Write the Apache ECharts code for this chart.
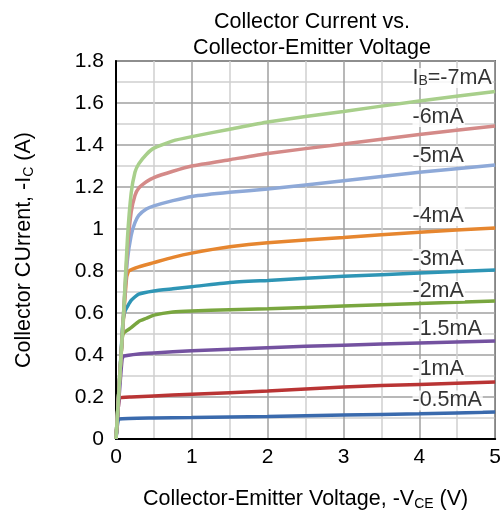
<!DOCTYPE html>
<html>
<head>
<meta charset="utf-8">
<script src="https://cdn.jsdelivr.net/npm/echarts@6/dist/echarts.min.js"></script>
<style>
  html, body { margin: 0; padding: 0; background: #fff; }
  #chart { width: 504px; height: 516px; }
</style>
</head>
<body>
<div id="chart"></div>
<script>
// collector current (A) vs collector-emitter voltage (V), one curve per base current
const ib7 = [[0,0],[0.05,0.3],[0.1,0.6],[0.15,0.95],[0.2,1.17],[0.25,1.27],[0.3,1.31],[0.4,1.355],[0.5,1.385],[0.75,1.42],[1,1.44],[1.5,1.475],[2,1.51],[3,1.56],[4,1.61],[5,1.655]]
const ib6 = [[0,0],[0.05,0.3],[0.1,0.6],[0.15,0.9],[0.2,1.08],[0.25,1.16],[0.3,1.195],[0.4,1.225],[0.5,1.245],[0.75,1.275],[1,1.3],[1.5,1.33],[2,1.36],[3,1.405],[4,1.45],[5,1.49]]
const ib5 = [[0,0],[0.05,0.3],[0.1,0.6],[0.15,0.85],[0.2,0.97],[0.25,1.03],[0.3,1.065],[0.4,1.095],[0.5,1.11],[0.75,1.135],[1,1.155],[1.5,1.175],[2,1.19],[3,1.23],[4,1.27],[5,1.305]]
const ib4 = [[0,0],[0.05,0.3],[0.1,0.58],[0.14,0.77],[0.17,0.8],[0.3,0.82],[0.5,0.84],[0.75,0.865],[1,0.885],[1.5,0.915],[2,0.935],[3,0.96],[4,0.985],[5,1.005]]
const ib3 = [[0,0],[0.05,0.3],[0.09,0.55],[0.12,0.61],[0.2,0.66],[0.3,0.69],[0.5,0.705],[0.75,0.715],[1,0.725],[1.5,0.745],[2,0.755],[3,0.775],[4,0.79],[5,0.805]]
const ib2 = [[0,0],[0.04,0.25],[0.08,0.47],[0.1,0.505],[0.2,0.53],[0.3,0.56],[0.4,0.575],[0.5,0.59],[0.75,0.605],[1,0.61],[1.5,0.615],[2,0.62],[3,0.633],[4,0.645],[5,0.657]]
const ib15 = [[0,0],[0.04,0.2],[0.08,0.38],[0.1,0.395],[0.3,0.405],[0.5,0.41],[1,0.42],[2,0.435],[3,0.447],[4,0.457],[5,0.467]]
const ib1 = [[0,0],[0.03,0.15],[0.05,0.195],[0.2,0.2],[0.5,0.205],[1,0.213],[2,0.228],[3,0.248],[4,0.26],[5,0.271]]
const ib05 = [[0,0],[0.02,0.07],[0.04,0.095],[0.5,0.1],[1,0.102],[2,0.107],[3,0.114],[4,0.12],[5,0.128]]

const curves = [ib05, ib1, ib15, ib2, ib3, ib4, ib5, ib6, ib7]
const curveNames = ['-0.5mA', '-1mA', '-1.5mA', '-2mA', '-3mA', '-4mA', '-5mA', '-6mA', '-7mA']
const curveColors = ['#3a6aad', '#b93434', '#7452a0', '#79a63f', '#2e95b5', '#e6862f', '#8ea9d8', '#d48a88', '#a8cf8b']

// curve labels at the right side
const labelTexts = ['-0.5mA', '-1mA', '-1.5mA', '-2mA', '-3mA', '-4mA', '-5mA', '-6mA', 'I{s|B}=-7mA']
const labelCurrent = [0.183, 0.333, 0.524, 0.705, 0.857, 1.062, 1.348, 1.533, 1.719]
const labelVoltage = 3.91

const FONT = '"Liberation Sans", Arial, sans-serif'
const subStyle = { fontFamily: FONT, fontSize: 14, color: '#000', verticalAlign: 'bottom', padding: [9, 0, 0, 0] }

const chart = echarts.init(document.getElementById('chart'))

let series = curves.map((d, i) => ({
    name: curveNames[i],
    type: 'line',
    data: d,
    smooth: 0.15,
    showSymbol: false,
    lineStyle: { width: 3.5, color: curveColors[i] },
    itemStyle: { color: curveColors[i] },
    z: 3
}))

series.push({
    name: 'labels',
    type: 'scatter',
    symbolSize: 0,
    data: labelCurrent.map((v, i) => [labelVoltage, v, labelTexts[i]]),
    label: {
        show: true,
        position: 'right',
        distance: 0,
        formatter: p => p.data[2],
        fontFamily: FONT,
        fontSize: 21.5,
        lineHeight: 20,
        color: '#000',
        backgroundColor: '#fff',
        padding: [0, 1, 0, 0],
        rich: { s: subStyle }
    },
    z: 5
})

const option = {
    animation: false,
    backgroundColor: '#fff',
    title: {
        text: 'Collector Current vs.\nCollector-Emitter Voltage',
        left: 307,
        top: 4,
        textAlign: 'center',
        textStyle: { fontFamily: FONT, fontSize: 21.5, fontWeight: 'normal', color: '#000', lineHeight: 26 }
    },
    grid: {
        left: 116, right: 7, top: 61, bottom: 76,
        show: true, borderColor: '#222', borderWidth: 1.5
    },
    xAxis: {
        type: 'value',
        min: 0, max: 5, interval: 1,
        name: 'Collector-Emitter Voltage, -V{s|CE} (V)',
        nameLocation: 'middle',
        nameGap: 49,
        nameTextStyle: { fontFamily: FONT, fontSize: 21.5, color: '#000', rich: { s: subStyle } },
        axisLine: { show: true, lineStyle: { color: '#000', width: 2 } },
        axisTick: { show: false },
        axisLabel: { fontFamily: FONT, fontSize: 21, color: '#000', margin: 8 },
        splitLine: { show: true, lineStyle: { color: '#a0a0a0', width: 1.5 } },
        minorTick: { show: false, splitNumber: 2 },
        minorSplitLine: { show: true, lineStyle: { color: '#cfcfcf', width: 1.5 } }
    },
    yAxis: {
        type: 'value',
        min: 0, max: 1.8, interval: 0.2,
        name: 'Collector CUrrent, -I{s|C} (A)',
        nameLocation: 'middle',
        nameGap: 80,
        nameTextStyle: { fontFamily: FONT, fontSize: 21.5, color: '#000', rich: { s: subStyle } },
        axisLine: { show: true, lineStyle: { color: '#000', width: 2 } },
        axisTick: { show: false },
        axisLabel: { fontFamily: FONT, fontSize: 21, color: '#000', margin: 12 },
        splitLine: { show: true, lineStyle: { color: '#a0a0a0', width: 1.5 } },
        minorTick: { show: false, splitNumber: 2 },
        minorSplitLine: { show: true, lineStyle: { color: '#cfcfcf', width: 1.5 } }
    },
    series: series
}

chart.setOption(option)
</script>
</body>
</html>
